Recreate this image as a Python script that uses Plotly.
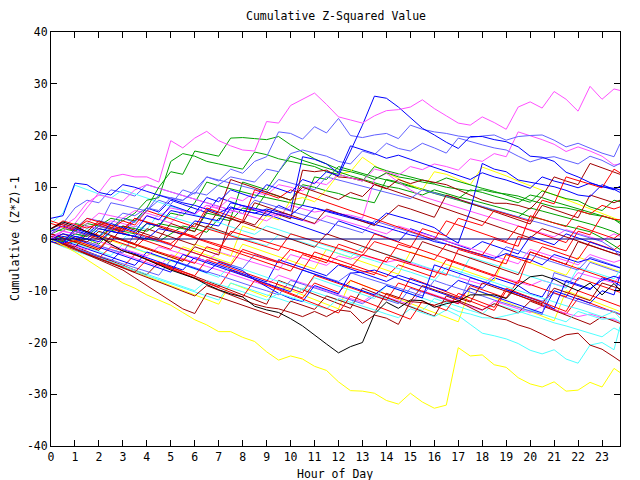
import plotly.graph_objects as go

HOURS = [0, 0.5, 1, 1.5, 2, 2.5, 3, 3.5, 4, 4.5, 5, 5.5, 6, 6.5, 7, 7.5,
         8, 8.5, 9, 9.5, 10, 10.5, 11, 11.5, 12, 12.5, 13, 13.5, 14, 14.5, 15, 15.5,
         16, 16.5, 17, 17.5, 18, 18.5, 19, 19.5, 20, 20.5, 21, 21.5, 22, 22.5, 23, 23.5,
         23.75]
X_TICKS = list(range(0, 24))
Y_TICKS = [-40, -30, -20, -10, 0, 10, 20, 30, 40]

RED = "#ff0000"
GREEN = "#00a000"
BLUE = "#0000ff"
LBLUE = "#6060ff"
MAGENTA = "#ff50ff"
CYAN = "#50ffff"
DRED = "#a00000"
YELLOW = "#ffff00"
BLACK = "#000000"

mag_top = [0, 1.5, 3, 6, 9, 12, 12.5, 12, 12, 11, 19, 17.6, 19.5, 20.8, 19, 18,
           17.2, 17, 22.7, 22.4, 25.8, 27, 28.2, 26, 23.6, 23, 22.4, 23.8, 24.8, 25, 25.5, 26.9,
           25.2, 23.8, 22.4, 22, 23.6, 22.5, 21.2, 25.5, 26.5, 25.3, 28.5, 27, 24.7, 29.5, 27, 29,
           28.7]
yel_low = [0, -1.2, -2.5, -4, -5.5, -7, -8.5, -9.5, -10.8, -11.8, -12.8, -14.2, -15.6, -16.6, -17.9, -17.9,
           -19, -19.8, -21.8, -23.4, -22.6, -23.2, -24.6, -25.4, -27.6, -29.3, -29.4, -29.8, -31.2, -31.9, -29.8, -31.5,
           -32.7, -32.1, -21, -22.6, -22.4, -24.3, -24.8, -26.8, -28, -28.6, -27.6, -29.4, -29.2, -27.7, -28.6, -25,
           -25.8]
black_1 = [2, 3.3, 2.5, 1.4, 0.5, -1, -2.3, -3, -4, -5, -6, -6.8, -7.6, -8.8, -9.8, -10.6,
           -11.2, -13, -13.7, -14.2, -15.4, -16.8, -18.6, -20.3, -22, -20.8, -20, -14.5, -12.2, -13.4, -11.8, -11.9,
           -13.2, -12.5, -12, -10.8, -10.8, -10.8, -11.5, -9, -7.3, -7, -7.8, -9, -10, -8.5, -10.8, -8.6,
           -9.9]
blue_peak = [0, -0.8, 2, 1.2, 0.4, 3, 2.2, 1.4, 4.5, 3.7, 6.5, 5.7, 4.9, 8, 7.2, 9.5,
             8.7, 7.9, 10.5, 9.7, 8.9, 11.5, 10.7, 13, 12.2, 17, 22, 27.6, 27.2, 25.5, 23.5, 21.4,
             20.1, 18.7, 17.5, 19.8, 19.8, 19.2, 18.8, 17.8, 16, 15.8, 15, 12.9, 12, 10.9, 10.1, 9.8,
             9.5]
lb_1 = [0, -0.8, 1.5, 0.7, 2.5, 1.7, 4, 3.2, 5.5, 7.5, 6.7, 9.5, 8.7, 12, 11.2, 13.5,
        12.7, 15, 15.9, 20.7, 20.4, 19.3, 21.7, 20.5, 23.3, 20, 19.6, 20.1, 20.4, 19.4, 22, 21.2,
        20.7, 20.4, 19.9, 19.6, 19.9, 20.1, 19.1, 19.8, 20, 20.1, 19.1, 17.8, 18.5, 17.6, 16.6, 15.9,
        18.4]
lb_2 = [1, 3, 2, 4, 3.5, 3, 5, 4.5, 6, 5.5, 8, 7.5, 9, 8.5, 10.5, 12,
        11.5, 11, 13.5, 13, 16.5, 17.2, 16.6, 16, 15, 14.5, 17, 16.3, 18.5, 17.5, 17, 18.5,
        17.6, 16.6, 19.5, 18.8, 18.2, 17.6, 17.2, 16, 14.9, 15.6, 15.9, 15.2, 14.5, 16, 15.2, 14,
        14.6]
lb_3 = [0, -0.5, 1, 0.5, 2.5, 7, 6.5, 6, 5.4, 8.5, 8, 7.4, 9.5, 12, 11.4, 10.8,
        10.2, 9.6, 9, 11.5, 10.8, 10.2, 9.5, 12, 11.4, 10.8, 10.2, 9.6, 9, 8.4, 7.8, 9.5,
        8.9, 8.3, 7.6, 7, 6.3, 5.6, 4.9, 4.3, 3.6, 3, 2.3, 1.6, 0.9, 0.3, -0.5, -2,
        -3.4]
lb_4 = [0, -1, -1.8, -2.5, -3.2, -4, -4.8, -5.5, -6.2, -7, -4, -4.8, -5.5, -6.3, -7, -7.8,
        -8.6, -9.3, -10, -10.8, -8, -8.7, -9.5, -10.2, -11, -11.8, -12.5, -11, -11.8, -12.5, -9.5, -10.3,
        -11, -11.8, -12.5, -7.5, -8.2, -9, -9.8, -10.5, -11.3, -12, -10.5, -11.3, -12, -12.8, -13.5, -14,
        -14.5]
lb_5 = [1, 0.5, 0, -0.5, -1.3, -2, -2.7, 1, 0.3, -0.4, -1.2, -2, -2.7, -3.4, -4.2, -5,
        -5.7, -3, -3.7, -4.4, -5.2, -6, -6.8, -7.5, -8.2, -6.5, -7.3, -8, -8.8, -9.5, -10.2, -11,
        -8, -8.8, -9.5, -10.2, -11, -11.8, -12.5, -13.2, -14, -14.6, -6.5, -7.2, -8, -4.5, -5.3, -6,
        -6.5]
lb_6 = [2, 3, 6, 7.5, 7, 9.5, 9, 8.3, 10.5, 9.8, 9.1, 8.4, 7.7, 7, 6.3, 5.6,
        4.9, 7.5, 6.8, 6.1, 5.4, 4.7, 4, 3.3, 2.6, 1.9, 1.2, 3.5, 2.8, 2, 1.3, 0.6,
        -0.2, -1, -1.7, -2.5, -3.2, -4, -1.5, -2.2, -3, -3.8, -4.5, -5.3, -6, -3.5, -4.3, -5,
        -5.5]
mag_2 = [0, 1.5, 1, 3, 5, 4.5, 4, 5.5, 5, 4.3, 6, 5.5, 4.8, 6.5, 6, 8,
         7.4, 9, 8.5, 10.5, 10, 9.3, 11, 10.5, 12.5, 11.8, 11.2, 13.5, 13, 12.3, 14, 13.4,
         14.5, 14, 13.3, 15.5, 15, 16.5, 15.9, 20.7, 20, 19.2, 18.3, 16.9, 17.8, 17, 16, 14.3,
         14.5]
mag_3 = [1, 2.5, 4, 7, 8.5, 8, 7.3, 9.5, 10.5, 9.8, 9.1, 8.4, 7.7, 7, 6.3, 5.6,
         4.9, 4.2, 3.5, 5, 4.3, 3.6, 2.9, 4.5, 3.8, 3.1, 2.4, 1.7, 1, 2.5, 1.8, 1.1,
         0.4, -0.3, -1, -1.8, -2.5, -3.3, -4, -4.8, -2, -2.7, -3.5, -4.2, -5, -3, -3.8, -4.5,
         -4.1]
mag_4 = [0, -0.8, -1.6, -0.5, -1.3, -2.1, -2.9, -3.7, -4.5, -5.3, -3, -3.8, -4.5, -5.3, -6, -6.8,
         -7.5, -8.3, -9, -7, -7.8, -8.5, -9.3, -10, -10.8, -11.5, -12.2, -10.5, -11.2, -12, -12.7, -10,
         -10.8, -11.5, -12.3, -13, -13.8, -12, -12.8, -13.5, -14.2, -13, -13.7, -14.4, -15, -14.5, -15.2, -15.6,
         -16]
mag_5 = [0.5, 1.5, 1, 2.5, 2, 3.5, 3, 2.3, 4.5, 3.8, 3.1, 5.5, 4.8, 6.5, 5.8, 5.1,
         6.5, 5.8, 5.1, 4.4, 6.5, 5.8, 5.2, 5.6, 4.9, 4.6, 4.0, 11.5, 12.7, 11, 9.5, 8.2,
         7.5, 6.8, 6, 5.3, 4.6, 3.9, 3.2, 2.5, 1.8, 1.1, 0.4, 1.8, 1.1, 0.4, -0.3, 1,
         0.5]
mag_6 = [0, -0.7, -1.4, -2.1, -0.5, -1.2, -1.9, -2.6, -3.3, -1.5, -2.2, -2.9, -3.6, -4.3, -2.5, -3.2,
         -3.9, -4.6, -5.3, -6, -3, -3.7, -4.4, -5.1, -3.3, -3.9, -3.1, -3.8, -4.5, -4, -4.7, -5.4,
         -6.1, -6.8, -7.5, -8.2, -8.8, -7, -7.7, -8.4, -9, -8, -8.7, -9.3, -6.5, -7.2, -7.9, -8.5,
         -7]
grn_1 = [0, -0.5, 1, 0.5, 2.5, 2, 4, 3.5, 6, 10, 13, 12.5, 17, 16.5, 16, 19.5,
         19.6, 19.4, 19.2, 19.8, 18.2, 16.8, 15.5, 14.5, 13.5, 13, 12.4, 11.5, 12.8, 12, 11.6, 11,
         10.6, 10, 9.6, 9.3, 9.5, 9, 8.7, 8.3, 7.5, 6.8, 6.2, 6, 5.5, 4.8, 4.4, 3.8,
         3.3]
grn_2 = [1, 2, 1.5, 3, 2.5, 4, 3.5, 5, 7.5, 8, 15, 16.5, 16, 15, 14.5, 14,
         13.5, 16.8, 16.3, 15.5, 15, 14.5, 14, 13, 12.5, 11.8, 11.2, 14, 13.2, 12.6, 12, 11.5,
         10.8, 11.8, 11.1, 10.4, 9.8, 9.2, 8.5, 7.8, 7.1, 9.3, 8.5, 7.8, 7.4, 6.2, 5.5, 7.5,
         7.2]
grn_3 = [2, 1.5, 3, 2.5, 2, 1.5, 2.5, 2, 1.5, 3, 2.5, 2, 1.5, 5, 4.5, 4,
         11, 10.3, 9.5, 13, 16, 15.2, 14.5, 13.7, 13, 12.2, 11.5, 10.8, 10.2, 9.8, 9.2, 8.5,
         9.5, 8.8, 8.1, 7.6, 7, 6.4, 5.7, 5.1, 4.3, 3.8, 3.1, 2.5, 1.9, 1.4, 0.2, -1.2,
         -2]
grn_4 = [0, -1, -0.5, 0, -1, 1.5, 1, 0.5, 0, -0.5, 1, 2.5, 2, 1.3, 4, 3.5,
         6, 5.5, 9, 8.3, 7.5, 10.5, 10, 9.3, 8.8, 8, 7.5, 7, 11.5, 11, 10.3, 9.6,
         9, 8.4, 7.8, 9.5, 9, 8.3, 7.7, 7, 8.5, 8, 7.2, 6.5, 5.8, 5.2, 4.5, 3.8,
         3]
grn_5 = [0.5, 0, -0.5, 1, 0.5, 2, 1.5, 1, 3, 2.5, 5, 4.5, 7, 11, 10.3, 9.7,
         9, 8.5, 8, 7.5, 7, 6.5, 12, 11.5, 14, 13.3, 12.7, 12, 11.4, 10.8, 10.1, 9.5,
         8.8, 8.2, 7.5, 6.8, 6.2, 5.5, 4.9, 4.2, 6, 5.4, 4.8, 4.2, 3.5, 2.9, 2.2, 1.4,
         0.8]
blu_1 = [4, 4.5, 10.8, 10.5, 9, 8.5, 10.5, 10, 9.2, 8.5, 7.8, 7, 6.5, 5.8, 5, 6.2,
         5.5, 5, 5.8, 5.2, 4.6, 6.5, 6, 5.3, 4.7, 4, 3.4, 2.8, 2.2, 1.5, 0.8, 0.3,
         -0.5, -1, -1.8, -2.4, -3, -3.7, -2.8, -3.5, -4, -5, -3, -3.8, -4.5, -3.8, -4.5, -5.2,
         -5.6]
blu_2 = [0, 1, 0.5, 0, 2, 1.5, 1, 0.5, 3, 2.5, 5.5, 5, 4.5, 4, 3.5, 7,
         6.5, 6, 5.4, 4.8, 4.2, 3.6, 6, 5.5, 4.9, 4.3, 3.7, 3, 5, 4.4, 3.7, 3,
         2.2, 0.5, -0.8, 5.5, 14.6, 13.5, 13, 11.4, 11, 10.5, 10.1, 9.4, 8.5, 8.2, 10.5, 9.6,
         9]
blu_3 = [-0.5, -1, 0.5, 0, -0.5, 1.5, 1, 0.5, 0, 2, 1.5, 1, 3.5, 3, 2.5, 6,
         5.5, 5, 4.5, 6.5, 5.5, 15.9, 15.4, 14.5, 12.7, 18, 17.3, 16.5, 15.6, 16.2, 15.4, 14.6,
         13.8, 13, 12.2, 11.5, 12.8, 12, 11.4, 10.6, 9.8, 12, 11.2, 10.6, 9.9, 10.8, 10.2, 9.5,
         10.2]
blu_4 = [0, -1, -1.8, -2.6, -3.5, -4.3, -2, -2.8, -3.6, -4.5, -5.2, -6, -3.5, -4.3, -5.1, -6,
         -6.8, -7.5, -8.3, -4, -4.8, -5.6, -6.4, -7.1, -5, -5.8, -6.6, -7.4, -8.2, -7, -7.8, -8.6,
         -9.3, -10, -8, -8.8, -9.5, -7.5, -8.3, -9, -10.5, -11.2, -7.5, -8.2, -9, -9.8, -7.5, -8.3,
         -9]
blu_5 = [-0.5, 0.5, 0, -0.8, -1.6, -2.4, -3.2, -4, -4.8, -5.6, -6.4, -3, -3.8, -4.6, -5.4, -6.2,
         -7, -7.8, -8.6, -9.4, -10.2, -6, -6.8, -7.6, -8.4, -9.2, -10, -10.8, -9, -9.8, -10.6, -11.4,
         -5, -5.8, -6.6, -7.4, -8.2, -9, -9.8, -10.6, -11.4, -12.2, -13.5, -8, -8.8, -9.6, -8, -7.2,
         -7.6]
blu_6 = [0.5, -0.3, -1.1, -1.9, -2.7, -3.5, -4.3, -5.1, -2.5, -3.3, -4.1, -4.9, -5.7, -6.5, -4.5, -5.3,
         -6.1, -7.9, -9.2, -10.5, -11.5, -12.1, -9, -9.8, -10.6, -6.6, -6.4, -6, -6.8, -7.6, -8.4, -9.2,
         -10, -10.8, -11.6, -9.5, -10.3, -11.1, -11.9, -12.7, -13.5, -14.3, -10, -10.8, -11.6, -12.4, -10, -10.8,
         -7]
blu_7 = [1.5, 2.5, 1.7, 0.9, 3, 2.2, 1.4, 3.5, 6, 5.2, 7.5, 6.7, 5.9, 5.1, 8, 7.2,
         6.4, 5.6, 4.8, 4, 3.2, 2.4, 1.6, 0.8, 3.5, 2.7, 1.9, 1.1, 0.3, -0.5, 2, 1.2,
         0.4, -0.4, -1.2, -2, -0.5, -1.3, -2.1, -2.9, 0.5, -0.3, -1.1, 1, 0.2, -0.6, -1.4, -2.2,
         -2.6]
cyn_1 = [3, 5, 10.4, 9.5, 8.7, 7.9, 9.5, 8.7, 7.9, 7.1, 6.3, 5.5, 4.7, 4, 3.2, 2.4,
         1.6, 0.9, 2.5, 1.8, 1, 0.2, -0.6, -1.3, -2, -2.8, -3.5, -4.2, -5, -5.7, -6.4, -7.2,
         -8, -5.5, -6.2, -7, -7.7, -8.4, -9.2, -10, -10.7, -11.4, -12.2, -12.9, -13.5, -14.3, -15, -14,
         -15.3]
cyn_2 = [0, -1, -2, -2.8, -3.6, -4.4, -5.2, -6, -6.8, -7.6, -8.4, -9.2, -10, -8, -8.8, -9.5,
         -10.2, -11, -11.8, -10.5, -11.2, -12, -12.8, -13.5, -11.5, -12.2, -13, -13.7, -14.5, -15.2, -13.5, -14.2,
         -15, -13.7, -14.8, -16.5, -18.2, -18.7, -19.3, -20.2, -21.5, -22.2, -21.4, -23.2, -24, -20.5, -20, -21.4,
         -16.9]
cyn_3 = [0.5, 0, -0.8, -1.6, -2.4, -3.2, -1, -1.8, -2.6, -3.4, -4.2, -5, -5.8, -6.6, -7.4, -5,
         -5.8, -6.6, -7.4, -8.2, -9, -9.8, -7.5, -8.3, -9.1, -9.9, -10.7, -11.5, -9, -9.8, -10.6, -11.4,
         -12.2, -13, -14, -14.5, -15.2, -15.3, -14.8, -14.3, -13.7, -14.5, -15.2, -16, -14, -14.8, -15.5, -15.3,
         -16]
cyn_4 = [-0.5, 0.5, 0, 2, 1.3, 0.6, -0.1, 2.5, 1.8, 5, 4.3, 3.6, 2.9, 2.2, 1.5, 0.8,
         0.1, -0.6, -1.3, 0.8, 0.1, -0.6, -1.4, -2.1, -2.8, -3.5, -1.5, -2.2, -3, -3.7, -4.4, -5.2,
         -6, -6.7, -7.5, -3.5, -4.2, -5, -5.7, -6.5, -7.2, -8, -8.7, -9.5, -5.5, -6.2, -7, -7.7,
         -6]
cyn_5 = [-0.5, -1.5, -2.3, -3.1, -3.9, -4.7, -5.5, -6.3, -7.1, -7.9, -8.7, -9.5, -10.3, -11.1, -11.8, -8.5,
         -9.3, -10, -10.8, -11.5, -12.3, -9.5, -10.3, -11, -11.8, -12.6, -10, -10.8, -11.5, -12.3, -13, -13.8,
         -11.5, -12.3, -13, -13.8, -14.5, -12.5, -13.2, -14, -14.7, -15.4, -16.2, -16.8, -17.5, -18.2, -18.9, -17.2,
         -17.8]
red_1 = [3, 2.3, 1.6, 4, 3.3, 2.6, 1.9, 1.2, 0.5, -0.2, -0.9, 1, 0.3, -0.4, -1.1, -1.8,
         -2.5, -3.2, -3.9, -4.6, -2, -2.7, -3.4, -4.1, -4.8, -5.5, -3, -3.7, -4.4, -1, -1.7, 2,
         1.3, 0.6, 4, 3.3, 2.6, 5.5, 4.8, 4.1, 3.4, 7.5, 6.8, 12, 11.3, 10.6, 9.9, 13.5,
         12.8]
red_2 = [2, 3.5, 2.8, 2.1, 3, 2.3, 1.6, 4, 3.3, 2.6, 1.9, 1.2, 0.5, 2, 1.3, 0.6,
         -0.1, -0.8, -1.5, -2.2, 1, 0.3, -0.4, -1.1, -1.8, -2.5, -3.2, -0.5, -1.2, -1.9, -2.6, -3.3,
         -4, -1, -1.7, -2.4, -3.1, 0, -0.7, -1.4, 4.5, 3.8, 3.1, 2.4, 5.5, 4.8, 6.5, 5.8,
         6.2]
red_3 = [0, -1, -0.3, -1.1, -1.9, 0.5, -0.2, -1, -1.7, -2.5, -3.2, -4, -4.7, -1.5, -2.2, 1.5,
         0.8, 0.1, -0.6, -1.3, -2, -2.7, -3.4, -4.1, -4.8, -5.5, -6.2, -6.9, -3.5, -4.2, -4.9, -5.6,
         -6.3, -7, -2, -2.7, -3.4, -4.1, -4.8, 0.5, -0.2, -0.9, -1.6, -2.3, 1.5, 0.8, 4.5, 3.8,
         3.7]
red_4 = [-0.5, -1.3, -2.1, -2.9, -3.7, -1.5, -2.3, -3.1, -3.9, -4.7, -5.5, -6.3, -7.1, -4, -4.8, -5.6,
         -6.4, -7.2, -8, -8.8, -9.6, -10.4, -7, -7.8, -8.6, -9.4, -10.2, -11, -11.8, -8.5, -9.3, -10.1,
         -10.9, -11.7, -12.5, -9, -9.8, -10.6, -11.4, -8, -8.8, -9.6, -10.4, -11.2, -7.5, -8.3, -9.1, -9.9,
         -10.3]
red_5 = [1, 0.2, -0.6, 1.5, 0.7, -0.1, -0.9, -1.7, 0.5, -0.3, -1.1, -1.9, -2.7, -3.5, -4.3, -5.1,
         -2, -2.8, -3.6, -4.4, -5.2, -6, -2.5, -3.3, -4.1, -4.9, -5.7, -6.5, -7.3, -5, -5.8, -6.6,
         -7.4, -4, -4.8, -5.6, -6.4, -7.2, -3, -3.8, -4.6, -1.5, -2.3, -3.1, -3.9, -0.5, -1.3, -2.1,
         -1.2]
red_6 = [0, -1, -1.9, -2.8, -3.7, -4.6, -5.5, -6.4, -4, -4.9, -5.8, -6.7, -7.6, -8.5, -9.4, -10.3,
         -11.2, -8, -8.9, -9.8, -10.7, -11.6, -12.5, -13.4, -14.3, -11, -11.9, -12.8, -13.7, -14.6, -15.5, -12,
         -12.9, -13.8, -10.5, -11.4, -12.3, -13.2, -9.5, -10.4, -11.3, -12.2, -13.1, -14, -10, -10.9, -11.8, -12.7,
         -13]
red_7 = [3.5, 2.7, 1.9, 3.5, 2.7, 1.9, 3.5, 2.7, 5.5, 4.7, 3.9, 3.1, 2.3, 6, 5.2, 4.4,
         3.6, 9.5, 8.7, 7.9, 9.5, 8.7, 7.9, 7.1, 6.3, 5.5, 4.7, 3.9, 3.1, 2.3, 1.5, 0.7,
         -0.1, 3.5, 2.7, 1.9, 1.1, 0.3, -0.5, 2.5, 1.7, 0.9, 0.1, -0.7, 2.5, 1.7, 0.9, 0.1,
         1]
red_8 = [0, -0.9, -1.8, -2.7, -3.6, -4.5, -5.4, -3, -3.9, -4.8, -5.7, -6.6, -7.5, -8.4, -9.3, -6,
         -6.9, -7.8, -8.7, -9.6, -10.5, -11.4, -8.5, -9.4, -10.3, -8, -8.9, -9.8, -10.7, -11.6, -7.5, -8.4,
         -9.3, -10.2, -11.1, -12, -12.9, -13.8, -10, -10.9, -11.8, -12.7, -13.6, -14.5, -11.5, -12.4, -13.3, -14.2,
         -14.6]
red_9 = [0.5, -0.3, 1.5, 0.7, -0.1, 2, 1.2, 0.4, -0.4, -1.2, -2, 1, 0.2, -0.6, -1.4, -2.2,
         -3, -3.8, -4.6, -5.4, -6.2, -3, -3.8, -4.6, -1, -1.8, -2.6, 1, 0.2, -0.6, -1.4, -2.2,
         -3, -3.8, -4.6, -5.4, -6.2, -7, -7.8, -8.6, -2.5, -3.3, -4.1, -4.9, -5.7, -6.5, -7.3, -8.1,
         -8.5]
dred_1 = [0, -1, -2, -2.9, -3.8, -4.7, -5.6, -6.5, -7.4, -8.3, -9.2, -10.1, -11, -9, -9.9, -10.8,
          -11.7, -12.6, -13.2, -13.5, -14.2, -15, -14, -15, -13.7, -14, -16.3, -14.7, -15.3, -16.5, -12.1, -12.3,
          -12.8, -12, -12.1, -13.2, -14.4, -15.3, -15.6, -16.6, -17.3, -18.4, -19.6, -18.5, -18.2, -20.5, -21.3, -22.8,
          -23.6]
dred_2 = [0, -1, -2, -3, -4, -5, -6, -7.5, -9, -10.5, -12, -13.5, -14.4, -10.5, -11.2, -12,
          -12.8, -13.6, -14.4, -15.2, -12, -12.8, -13.6, -11, -11.8, -12.6, -13.4, -14.2, -10.5, -11.3, -12.1, -9,
          -9.8, -10.6, -11.4, -12.2, -8.5, -9.3, -10.1, -10.9, -11.7, -12.5, -9.5, -10.3, -11.1, -11.9, -8.5, -9.3,
          -9.6]
dred_3 = [2, 3, 2.2, 1.4, 3.5, 2.7, 1.9, 4, 3.2, 2.4, 1.6, 0.8, 3, 2.2, 5.5, 11.5,
          10.7, 9.9, 9.1, 8.3, 7.5, 10, 9.2, 8.4, 7.6, 9, 8.2, 10.5, 9.7, 11.5, 10.7, 11.4,
          11, 10.5, 9.5, 8.5, 7.5, 6.9, 6.9, 6.5, 5.8, 8.2, 12, 11.2, 10.5, 14.6, 13.8, 13,
          12.5]
dred_4 = [0, -0.8, -1.6, 1, 0.2, -0.6, 2.5, 1.7, 0.9, 0.1, 3, 2.2, 1.4, 5.5, 4.7, 3.9,
          3.1, 7, 6.2, 5.4, 4.6, 3.8, 3, 5.8, 5, 4.2, 3.4, 2.6, 4.5, 6.5, 5.8, 5,
          4.2, 8.5, 7.7, 6.9, 6.1, 5.3, 4.5, 3.7, 2.9, 6.5, 5.7, 4.9, 4.1, 8.5, 7.7, 7,
          7.5]
dred_5 = [1, 0.2, -0.6, -1.4, -2.2, 0.5, -0.3, -1.1, -1.9, -2.7, -3.5, -4.3, -1.5, -2.3, -3.1, 4,
          3.2, 2.4, 1.6, 0.8, 0, -0.8, -1.6, 1, 0.2, -0.6, -1.4, -2.2, -3, -3.8, -4.6, -0.5,
          -1.3, -2.1, -2.9, -3.7, -4.5, -5.3, -6.1, -6.9, -2.5, -3.3, -4.1, -4.9, -0.5, -1.3, -2.1, -2.9,
          -3.2]
dred_6 = [0, 1, 0.2, -0.6, 1.5, 0.7, -0.1, -0.9, 2, 1.2, 0.4, -0.4, -1.2, 2.5, 1.7, 0.9,
          3.5, 2.7, 5.5, 4.7, 3.9, 13.3, 13, 13.3, 12, 11.8, 11.4, 10.6, 9.8, 9, 8.2, 7.4,
          6.6, 5.8, 5, 4.2, 3.4, 2.6, 1.8, 1, 0.2, 2, 1.2, 0.4, -0.4, -1.2, -2, -2.8,
          -3]
dred_7 = [0.5, -0.5, -1.5, -2.4, -3.3, -4.2, -5.1, -6, -6.9, -4.5, -5.4, -6.3, -7.2, -8.1, -9, -9.9,
          -10.8, -11.7, -12.6, -8, -8.9, -9.8, -10.7, -11.6, -12.5, -13.4, -9.5, -10.4, -11.3, -12.2, -13.1, -14,
          -14.9, -11, -11.9, -12.8, -13.7, -12.5, -13.4, -14.3, -12, -12.9, -13.8, -14.7, -15.6, -16.5, -15, -15.9,
          -16.3]
yel_2 = [-0.5, 0.5, -0.3, -1.1, -1.9, 0.5, -0.3, -1.1, -1.9, -2.7, -3.5, -4.3, -1, -1.8, -2.6, -3.4,
         2.5, 1.7, 4.5, 3.7, 7.5, 8, 7.2, 9.5, 12.5, 13, 15.8, 14.2, 12.8, 11.6, 10.5, 9.5,
         13, 12.5, 11.5, 10.5, 13.9, 13.1, 12.2, 11.2, 10.3, 9.4, 8.5, 7.6, 6.7, 5.8, 4.9, 4,
         3.6]
yel_3 = [0, -0.9, -1.8, -2.7, -3.6, -4.5, -5.4, -6.3, -7.2, -8.1, -9, -9.9, -10.8, -11.7, -12.6, -8.5,
         -9.4, -10.3, -11.2, -9, -9.9, -10.8, -11.7, -12.6, -13.5, -8, -8.9, -9.8, -10.7, -11.6, -12.5, -13.4,
         -14.3, -15.2, -16, -9.5, -10.4, -11.3, -12.2, -13.1, -14, -14.9, -15.8, -10, -10.9, -11.8, -12.7, -13.6,
         -14]
yel_4 = [1, 0.2, -0.6, -1.4, 0.5, -0.3, -1.1, -1.9, -2.7, -3.5, -4.3, -1.5, -2.3, -3.1, -3.9, -4.7,
         -1, -1.8, -2.6, -3.4, -4.2, -5, -5.8, -2, -2.8, -3.6, -4.4, -5.2, -6, -6.8, -2.5, -3.3,
         -4.1, -4.9, -5.7, -6.5, -7.3, -8.1, -3, -3.8, -4.6, -5.4, -6.2, -7, -3.5, -4.3, -5.1, -5.9,
         -6.3]

SERIES = [
    (yel_3, YELLOW), (cyn_5, CYAN), (red_8, RED), (grn_4, GREEN), (blu_4, BLUE),
    (mag_4, MAGENTA), (dred_7, DRED), (lb_4, LBLUE), (yel_4, YELLOW), (cyn_3, CYAN),
    (red_4, RED), (grn_5, GREEN), (blu_6, BLUE), (mag_6, MAGENTA), (dred_2, DRED),
    (lb_5, LBLUE), (yel_2, YELLOW), (cyn_4, CYAN), (red_5, RED), (grn_3, GREEN),
    (blu_7, BLUE), (mag_5, MAGENTA), (dred_5, DRED), (lb_6, LBLUE), (cyn_1, CYAN),
    (red_9, RED), (grn_2, GREEN), (blu_5, BLUE), (mag_3, MAGENTA), (dred_6, DRED),
    (lb_3, LBLUE), (cyn_2, CYAN), (red_6, RED), (grn_1, GREEN), (blu_1, BLUE),
    (mag_2, MAGENTA), (dred_4, DRED), (lb_2, LBLUE), (red_7, RED), (blu_3, BLUE),
    (dred_3, DRED), (red_2, RED), (blu_2, BLUE), (red_3, RED), (dred_1, DRED),
    (red_1, RED), (lb_1, LBLUE), (yel_low, YELLOW), (black_1, BLACK), (blue_peak, BLUE),
    (mag_top, MAGENTA),
]

FONT = "DejaVu Sans Mono"

fig = go.Figure()
for values, color in SERIES:
    fig.add_trace(go.Scatter(x=HOURS, y=values, mode="lines",
                             line=dict(color=color, width=1),
                             hoverinfo="skip", showlegend=False))

fig.add_shape(type="line", xref="paper", yref="y", x0=0, x1=1, y0=0, y1=0,
              line=dict(color="#000080", width=1), layer="above")

axis_common = dict(showline=True, linecolor="black", linewidth=1, mirror="ticks",
                   ticks="inside", ticklen=6, tickcolor="black", tickwidth=1,
                   showgrid=False, zeroline=False,
                   tickfont=dict(family=FONT, size=11.5, color="black"))

fig.update_xaxes(range=[0, 23.75], tickmode="array", tickvals=X_TICKS,
                 ticktext=[str(t) for t in X_TICKS], **axis_common)
fig.update_yaxes(range=[-40, 40], tickmode="array", tickvals=Y_TICKS,
                 ticktext=[str(t) for t in Y_TICKS], **axis_common)

# the page body has an 8px margin, so the figure is sized to fit the 640x480 window
fig.update_layout(
    width=632, height=472,
    margin=dict(l=43, r=20, t=24, b=34, autoexpand=False),
    paper_bgcolor="white", plot_bgcolor="white",
    font=dict(family=FONT, size=11.5, color="black"),
    showlegend=False,
    annotations=[
        dict(text="Cumulative Z-Squared Value", xref="paper", yref="paper",
             x=0.5, y=(446 - 15.5) / 414, xanchor="center", yanchor="middle",
             showarrow=False, font=dict(family=FONT, size=11.5, color="black")),
        dict(text="Hour of Day", xref="paper", yref="paper",
             x=(335 - 51) / 569, y=(446 - 473.5) / 414, xanchor="center", yanchor="middle",
             showarrow=False, font=dict(family=FONT, size=11.5, color="black")),
        dict(text="Cumulative (Z*Z)-1", xref="paper", yref="paper",
             x=(15 - 51) / 569, y=0.5, xanchor="center", yanchor="middle", textangle=-90,
             showarrow=False, font=dict(family=FONT, size=11.5, color="black")),
    ],
)

fig.write_html("out.html")
